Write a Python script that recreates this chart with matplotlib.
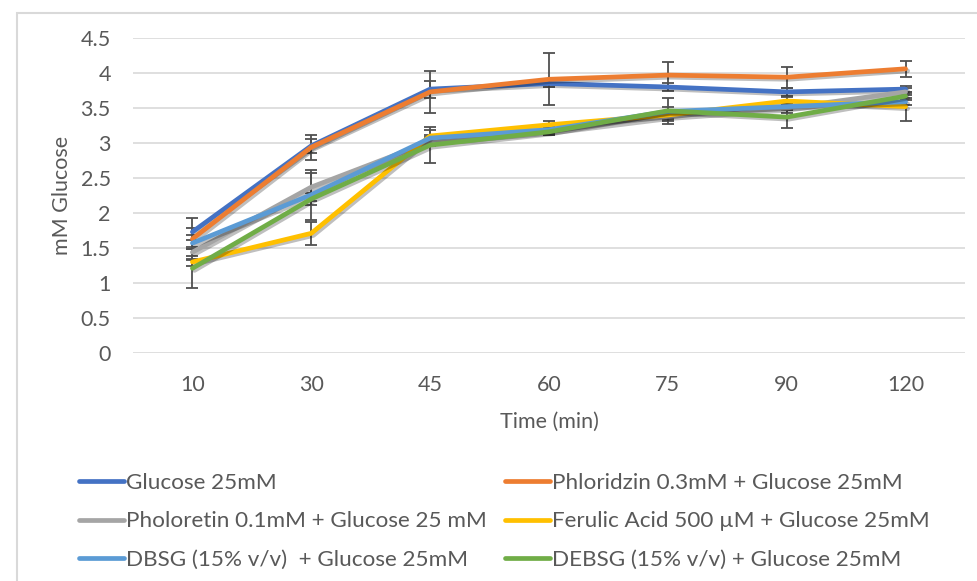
import matplotlib
matplotlib.use("Agg")
import matplotlib.pyplot as plt
import matplotlib.patheffects as pe
from matplotlib.patches import Rectangle
from matplotlib.lines import Line2D

plt.rcParams['font.family'] = ['Lato', 'DejaVu Sans']

times = ["10", "30", "45", "60", "75", "90", "120"]
series_names = [
    "Glucose 25mM",
    "Phloridzin 0.3mM + Glucose 25mM",
    "Pholoretin 0.1mM + Glucose 25 mM",
    "Ferulic Acid 500 µM + Glucose 25mM",
    "DBSG (15% v/v)  + Glucose 25mM",
    "DEBSG (15% v/v) + Glucose 25mM",
]
colors = ["#4472C4", "#ED7D31", "#A5A5A5", "#FFC000", "#5B9BD5", "#70AD47"]

glucose = [1.73, 2.96, 3.77, 3.85, 3.80, 3.73, 3.77]
phloridzin = [1.63, 2.94, 3.73, 3.91, 3.97, 3.94, 4.06]
phloretin = [1.44, 2.37, 3.02, 3.17, 3.38, 3.50, 3.73]
ferulic = [1.30, 1.71, 3.10, 3.26, 3.40, 3.60, 3.52]
dbsg = [1.57, 2.26, 3.07, 3.19, 3.45, 3.52, 3.59]
debsg = [1.21, 2.20, 2.97, 3.16, 3.46, 3.37, 3.67]

err_glucose = [0.05, 0.10, 0.12, 0.05, 0.06, 0.06, 0.05]
err_phloridzin = [0.30, 0.18, 0.30, 0.37, 0.19, 0.15, 0.11]
err_phloretin = [0.05, 0.20, 0.06, 0.05, 0.06, 0.07, 0.05]
err_ferulic = [0.05, 0.16, 0.08, 0.05, 0.05, 0.06, 0.21]
err_dbsg = [0.05, 0.36, 0.05, 0.05, 0.06, 0.05, 0.05]
err_debsg = [0.28, 0.08, 0.26, 0.05, 0.19, 0.16, 0.06]

values = [glucose, phloridzin, phloretin, ferulic, dbsg, debsg]
errors = [err_glucose, err_phloridzin, err_phloretin, err_ferulic, err_dbsg, err_debsg]

FS = 15.5
LFS = 16.2
TXT = "#595959"

fig = plt.figure(figsize=(9.77, 5.81), dpi=100)
W, H = 977, 581
ax = fig.add_axes([133 / W, (H - 353) / H, (965 - 133) / W, (353 - 38) / H])

x = list(range(len(times)))
shadow = [pe.SimpleLineShadow(offset=(1.5, -1.5), shadow_color="black", alpha=0.25), pe.Normal()]
for name, c, v, e in zip(series_names, colors, values, errors):
    ax.errorbar(x, v, yerr=e, fmt='none', ecolor="#505050", elinewidth=1.3,
                capsize=4, capthick=1.3, zorder=2)
    ax.plot(x, v, color=c, lw=3.4, label=name, solid_joinstyle='round',
            solid_capstyle='round', path_effects=shadow, zorder=3)

ax.set_xlim(-0.5, len(times) - 0.5)
ax.set_ylim(0, 4.5)
ax.set_yticks([0, 0.5, 1, 1.5, 2, 2.5, 3, 3.5, 4, 4.5])
ax.set_yticklabels(["0", "0.5", "1", "1.5", "2", "2.5", "3", "3.5", "4", "4.5"])
ax.set_xticks(x)
ax.set_xticklabels(times)
ax.grid(axis='y', color="#d9d9d9", lw=1.2)
ax.set_axisbelow(True)
for s in ax.spines.values():
    s.set_visible(False)
ax.tick_params(axis='both', length=0, labelsize=FS, colors=TXT)
ax.tick_params(axis='y', pad=16)
ax.tick_params(axis='x', pad=16)
ax.set_xlabel("Time (min)", fontsize=FS, color=TXT, labelpad=12)
ax.set_ylabel("mM Glucose", fontsize=FS, color=TXT, labelpad=6)

order = [0, 2, 4, 1, 3, 5]
hs = [Line2D([0], [0], color=colors[i], lw=3.4, solid_capstyle='round') for i in order]
labs = [series_names[i] for i in order]
leg = fig.legend(hs, labs, ncol=2, loc='upper left', bbox_to_anchor=(61 / W, 1 - 455 / H),
                 frameon=False, fontsize=LFS, labelcolor=TXT, handlelength=2.0,
                 handletextpad=0.1, columnspacing=0.8, labelspacing=0.82,
                 borderpad=0.3)

fig.patches.append(Rectangle((17 / W, -0.1), 1.2, 1 - 13 / H + 0.1, transform=fig.transFigure,
                             fill=False, edgecolor="#d9d9d9", lw=1.5))

fig.savefig("out.png", dpi=100)
